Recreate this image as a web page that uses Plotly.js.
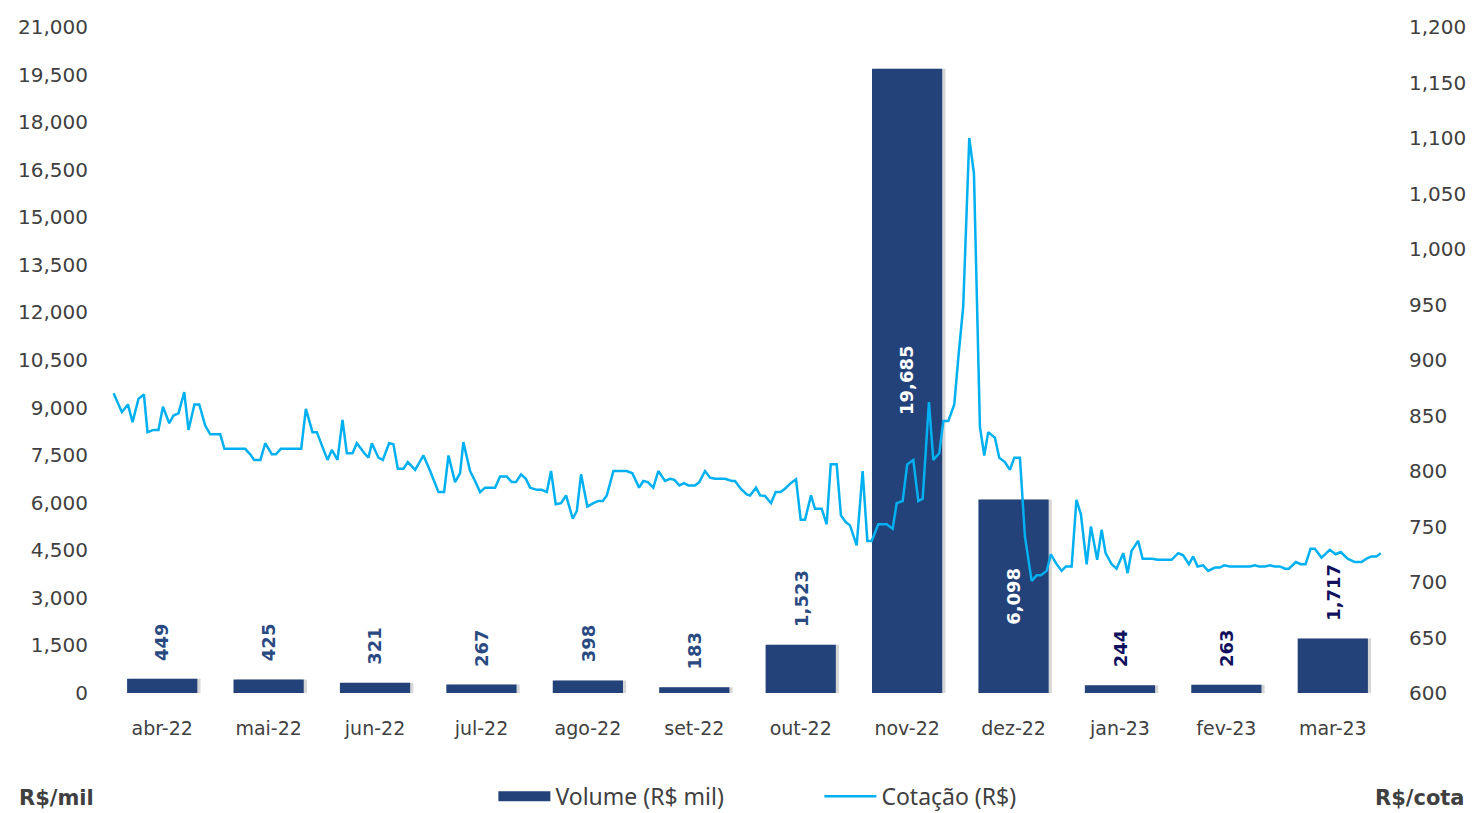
<!DOCTYPE html>
<html>
<head>
<meta charset="utf-8">
<script src="https://cdn.plot.ly/plotly-3.0.1.min.js"></script>
<style>html,body{margin:0;padding:0;background:#fff;}#chart{width:1475px;height:813px;}</style>
</head>
<body>
<div id="chart"></div>
<script>
// Categories (months)
const months = ["abr-22","mai-22","jun-22","jul-22","ago-22","set-22","out-22","nov-22","dez-22","jan-23","fev-23","mar-23"];
// Monthly traded volume (R$ mil)
const volume = [449, 425, 321, 267, 398, 183, 1523, 19685, 6098, 244, 263, 1717];
const volumeLabels = ["449","425","321","267","398","183","1,523","19,685","6,098","244","263","1,717"];
// Daily price (R$/cota): position in months (0 = abr-22 centre) and price
const priceX = [
-0.457,-0.379,-0.322,-0.279,-0.223,-0.172,-0.138,-0.082,-0.035,0.007,0.066,0.106,0.153,0.207,0.247,0.303,0.348,0.404,0.451,0.545,0.585,0.780,0.827,0.864,0.923,0.968,1.031,1.068,1.115,1.306,1.350,1.412,1.453,1.500,1.553,1.594,1.647,1.694,1.735,1.788,1.829,1.900,1.938,1.970,2.032,2.073,2.132,2.173,2.214,2.267,2.308,2.377,2.455,2.518,
2.596,2.649,2.690,2.752,2.799,2.830,2.893,2.940,2.987,3.034,3.128,3.175,3.238,3.285,3.325,3.372,3.417,3.457,3.520,3.567,3.614,3.654,3.698,3.748,3.795,3.858,3.896,3.936,3.995,4.052,4.099,4.140,4.178,4.240,4.365,4.418,4.481,4.521,4.563,4.615,4.662,4.725,4.772,4.813,4.860,4.904,4.944,5.007,5.047,5.101,5.148,5.195,5.289,5.352,5.383,5.436,5.493,5.524,5.580,5.618,
5.665,5.721,5.765,5.812,5.852,5.906,5.956,6.000,6.040,6.097,6.134,6.197,6.244,6.282,6.338,6.378,6.423,6.463,6.526,6.582,6.626,6.667,6.729,6.808,6.864,6.902,6.958,7.001,7.058,7.105,7.146,7.205,7.246,7.302,7.340,7.387,7.443,7.481,7.527,7.584,7.628,7.684,7.725,7.762,7.825,7.866,7.919,7.966,8.007,8.060,8.107,8.170,8.217,8.258,8.311,8.351,8.398,8.452,8.492,8.546,
8.591,8.633,8.687,8.727,8.786,8.828,8.865,8.922,8.968,9.031,9.072,9.109,9.171,9.213,9.303,9.354,9.485,9.547,9.594,9.648,9.688,9.729,9.782,9.829,9.892,9.939,9.979,10.033,10.221,10.268,10.308,10.362,10.409,10.456,10.503,10.550,10.587,10.653,10.700,10.744,10.791,10.831,10.894,10.972,11.026,11.075,11.139,11.207,11.270,11.317,11.364,11.411,11.451];
const price = [
870,853,860,844,865,869,835,837,837,858,843,850,852,871,837,860,860,841,833,833,820,820,815,810,810,825,815,815,820,820,856,835,835,823,810,819,810,846,816,816,825,816,812,825,812,810,825,824,802,802,808,801,814,800,
781,781,814,790,798,826,800,791,781,785,785,795,795,790,790,797,793,785,783,783,781,800,770,771,778,757,764,797,768,771,773,773,778,800,800,798,785,791,790,785,800,791,793,792,787,789,787,787,790,800,794,793,793,791,791,784,779,778,785,778,
777.5,771,781,781,784,789,792.5,756,756,778,766,766,752,806,806,760,754,751,733,800,737,737,752,752,748,771,773,806,810,773,775,862,810,816,845,845,860,902,948,1100,1068,840,814,835,830,812,808,801,812,812,741,701,706,706,710,725,717,710,714,714,
774,761,716,750,720,747,726,716,712,726,708,728,737,721,721,720,720,726,724,716,723,714,715,710,713,713,715,714,714,715,714,714,715,714,714,712,712,718,716,716,730,730,722,729,725,727,721,718,718,721,723,723,726];

const idx = months.map((m, i) => i);
const barColor = '#24427A';
const lineColor = '#00B0F0';
const axisFont = {family: 'DejaVu Sans, sans-serif', size: 20, color: '#404040'};
const monthFont = {family: 'DejaVu Sans, sans-serif', size: 19, color: '#404040'};

const shadow = {
  type: 'bar', x: idx, y: volume, width: 0.66, offset: -0.30,
  marker: {color: 'rgba(0,0,0,0.16)'}, hoverinfo: 'skip', showlegend: false
};
const bars = {
  type: 'bar', x: idx, y: volume, width: 0.66, name: 'Volume (R$ mil)',
  marker: {color: barColor}, showlegend: false, legendgroup: 'vol'
};
// legend-only swatch for the bars (wide rectangle like the original)
const barsKey = {
  type: 'scatter', mode: 'lines', x: [null], y: [null], name: 'Volume (R$ mil)',
  line: {color: barColor, width: 16}, legendgroup: 'vol', hoverinfo: 'skip'
};
const line = {
  type: 'scatter', mode: 'lines', x: priceX, y: price, yaxis: 'y2', name: 'Cotação (R$)',
  line: {color: lineColor, width: 2.5}
};

const annotations = volume.map((v, i) => {
  const inside = v > 5000;
  return {
    x: i, y: inside ? v / 2 : v, xref: 'x', yref: 'y',
    text: volumeLabels[i], showarrow: false, textangle: -90,
    xanchor: 'center', yanchor: inside ? 'middle' : 'bottom', yshift: inside ? 0 : 16,
    font: {family: 'DejaVu Sans, sans-serif', size: 18, weight: 'bold',
           color: inside ? '#ffffff' : (i >= 9 ? '#10105E' : '#2A4A82')}
  };
});
annotations.push({
  xref: 'paper', yref: 'paper', x: -0.041, y: -0.157, xanchor: 'center', yanchor: 'middle', showarrow: false,
  text: '<b>R$/mil</b>', font: {family: 'DejaVu Sans, sans-serif', size: 21, color: '#404040'}
});
annotations.push({
  xref: 'paper', yref: 'paper', x: 1.027, y: -0.157, xanchor: 'center', yanchor: 'middle', showarrow: false,
  text: '<b>R$/cota</b>', font: {family: 'DejaVu Sans, sans-serif', size: 21, color: '#404040'}
});

const layout = {
  width: 1475, height: 813,
  margin: {l: 109, r: 89, t: 27, b: 120, autoexpand: false},
  paper_bgcolor: '#ffffff', plot_bgcolor: '#ffffff',
  barmode: 'overlay',
  showlegend: true,
  legend: {orientation: 'h', x: 0.301, xanchor: 'left', y: -0.155, yanchor: 'middle',
           font: {family: 'Noto Sans, sans-serif', size: 23, color: '#404040'},
           itemwidth: 52, entrywidth: 259, entrywidthmode: 'pixels', traceorder: 'normal'},
  xaxis: {range: [-0.5, 11.5], tickvals: idx, ticktext: months, showgrid: false,
          zeroline: false, showline: false, ticks: '', tickfont: monthFont, ticklabelstandoff: 22},
  yaxis: {range: [0, 21000], dtick: 1500, tick0: 0, tickformat: ',', showgrid: false,
          zeroline: false, showline: false, ticks: '', tickfont: axisFont, ticklabelstandoff: 20},
  yaxis2: {range: [600, 1200], dtick: 50, tick0: 600, tickformat: ',', overlaying: 'y', side: 'right',
           showgrid: false, zeroline: false, showline: false, ticks: '', tickfont: axisFont, ticklabelstandoff: 22},
  annotations: annotations
};

Plotly.newPlot('chart', [shadow, bars, barsKey, line], layout, {displayModeBar: false, staticPlot: true});
</script>
</body>
</html>
